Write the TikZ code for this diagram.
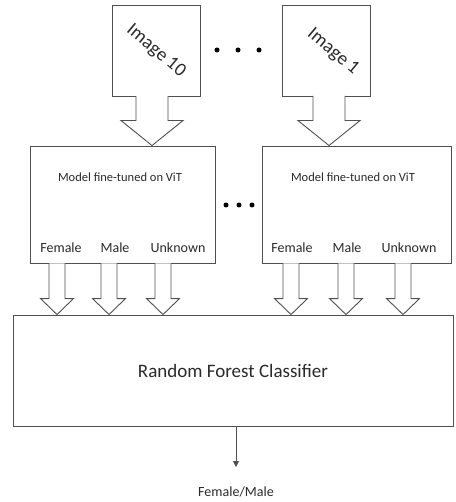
\documentclass[tikz,border=0pt]{standalone}
\usepackage{fontspec}
\setmainfont{Carlito}
\usetikzlibrary{calc,arrows.meta}
\definecolor{ln}{HTML}{505050}
\definecolor{tx}{HTML}{2A2A2A}
\tikzset{
  boxst/.style={draw=ln, line width=0.9pt, fill=white},
  txt/.style={text=tx, inner sep=0pt},
  lbl/.style={txt, font=\fontsize{14}{14}\selectfont},
  hollow/.style={draw=ln, line width=0.9pt, fill=white, line join=miter},
  dotst/.style={fill=black, circle, inner sep=0pt, minimum size=5pt},
}
% \harrow{start}{tip}{half shaft}{half head}{head length}
\newcommand{\harrow}[5]{%
  \draw[hollow] ($(#1)+(-#3,0)$) -- ($(#2)+(-#3,-#5)$) -- ($(#2)+(-#4,-#5)$) -- (#2)
    -- ($(#2)+(#4,-#5)$) -- ($(#2)+(#3,-#5)$) -- ($(#1)+(#3,0)$);}
\begin{document}
\begin{tikzpicture}[x=1pt,y=-1pt]
\useasboundingbox (0,0) rectangle (455,502);
% image boxes
\draw[boxst] (112,5) rectangle (200,96);
\node[txt, rotate=-40, font=\fontsize{19}{19}\selectfont] (img10) at (156,51) {Image 10};
\draw[boxst] (282,5) rectangle (370,96);
\node[txt, rotate=-40, font=\fontsize{19}{19}\selectfont] (img1) at (333,52) {Image 1};
\coordinate (i10s) at (152,96);
\coordinate (i1s) at (329,96);
% dots top
\node[dotst] (d1) at (217,50) {};
\node[dotst] (d2) at (238,50) {};
\node[dotst] (d3) at (259,50) {};
% model boxes
\node[boxst, minimum width=185pt, minimum height=117pt, inner sep=0pt] (mA) at (122.5,204.5) {};
\node[boxst, minimum width=189pt, minimum height=117pt, inner sep=0pt] (mB) at (356.5,204.5) {};
\node[txt, font=\fontsize{12.5}{12.5}\selectfont] (tA) at (120,177) {Model fine-tuned on ViT};
\node[txt, font=\fontsize{12.5}{12.5}\selectfont] (tB) at (353,177) {Model fine-tuned on ViT};
\node[lbl] (fA) at (61,248) {Female};
\node[lbl] (maA) at (115,248) {Male};
\node[lbl] (uA) at (178,248) {Unknown};
\node[lbl] (fB) at (292,248) {Female};
\node[lbl] (maB) at (347,248) {Male};
\node[lbl] (uB) at (409,248) {Unknown};
% dots middle
\node[dotst] (e1) at (226,205) {};
\node[dotst] (e2) at (239,205) {};
\node[dotst] (e3) at (252,205) {};
% random forest
\node[boxst, minimum width=440pt, minimum height=111pt, inner sep=0pt] (rf) at (233,370.5) {};
\node[txt, font=\fontsize{19}{19}\selectfont] (rft) at (233,371) {Random Forest Classifier};
\node[txt, font=\fontsize{14}{14}\selectfont] (out) at (236,492) {Female/Male};
% arrows image -> model
\harrow{i10s}{mA.north -| i10s}{16}{31}{25}
\harrow{i1s}{mB.north -| i1s}{16}{31}{25}
% arrows model -> rf
\foreach \xx/\bx in {57/mA,109/mA,163/mA,291/mB,346/mB,403/mB}{
  \coordinate (s\xx) at (\bx.south -| {\xx,0});
  \coordinate (t\xx) at (rf.north -| {\xx,0});
  \harrow{s\xx}{t\xx}{8}{16.5}{16}
}
\coordinate (rfo) at (236,426);
\coordinate (outend) at (236,467);
\draw[draw=ln, line width=0.9pt, -{Triangle[length=6pt,width=6pt]}, ln] (rf.south -| rfo) -- (outend);
\end{tikzpicture}
\end{document}
